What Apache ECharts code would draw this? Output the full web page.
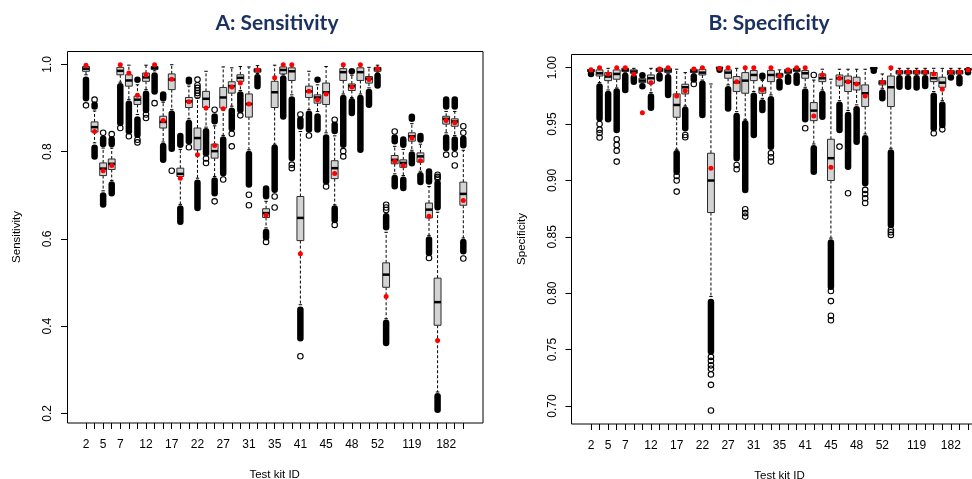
<!DOCTYPE html>
<html>
<head>
<meta charset="utf-8">
<script src="https://cdn.jsdelivr.net/npm/echarts@6/dist/echarts.min.js"></script>
<style>
  html, body { margin: 0; padding: 0; background: #fff; }
  #chart { width: 972px; height: 479px; }
</style>
</head>
<body>
<div id="chart"></div>
<script>
// test kit ids (only some are printed on the axis)
const kitIds = ["2","3","5","6","7","8","10","12","13","15","17","18","20","22","24","25","27","28","29","31",
  "32","33","35","36","38","41","42","43","45","46","47","48","50","51","52","53","54","101","119","120",
  "135","181","182","183","184"];
const shownIds = ["2","5","7","12","17","22","27","31","35","41","45","48","52","119","182"];

const sensTicks = [0.2, 0.4, 0.6, 0.8, 1.0];
const specTicks = [0.70, 0.75, 0.80, 0.85, 0.90, 0.95, 1.00];

// boxes: [lower whisker, Q1, median, Q3, upper whisker]
const sensBoxes = [
  [0.976,0.984,0.990,0.995,0.999],[0.820,0.845,0.856,0.868,0.893],[0.710,0.745,0.761,0.774,0.808],
  [0.734,0.759,0.772,0.783,0.808],[0.959,0.976,0.985,0.993,0.998],[0.919,0.950,0.963,0.976,0.998],
  [0.885,0.908,0.919,0.927,0.953],[0.942,0.961,0.970,0.980,0.998],[0.985,0.988,0.992,0.995,0.998],
  [0.822,0.854,0.868,0.881,0.913],[0.896,0.942,0.965,0.978,0.999],[0.679,0.743,0.749,0.762,0.805],
  [0.875,0.901,0.915,0.924,0.950],[0.739,0.804,0.831,0.854,0.923],[0.856,0.901,0.921,0.938,0.984],
  [0.743,0.785,0.801,0.817,0.859],[0.837,0.900,0.924,0.947,0.994],[0.904,0.934,0.950,0.960,0.992],
  [0.940,0.961,0.969,0.976,0.995],[0.804,0.879,0.909,0.932,0.994],[0.979,0.982,0.986,0.990,0.997],
  [0.625,0.649,0.659,0.669,0.686],[0.817,0.901,0.936,0.961,0.998],[0.976,0.978,0.987,0.994,0.998],
  [0.930,0.963,0.984,0.992,0.998],[0.449,0.596,0.648,0.697,0.846],[0.896,0.924,0.938,0.950,0.984],
  [0.892,0.911,0.924,0.930,0.953],[0.843,0.908,0.936,0.957,0.995],[0.678,0.738,0.762,0.779,0.836],
  [0.932,0.963,0.982,0.990,0.998],[0.924,0.940,0.950,0.955,0.975],[0.932,0.963,0.982,0.992,0.998],
  [0.946,0.957,0.967,0.972,0.993],[0.982,0.984,0.989,0.993,0.998],[0.417,0.489,0.518,0.545,0.615],
  [0.749,0.772,0.781,0.791,0.812],[0.745,0.764,0.774,0.781,0.805],[0.803,0.824,0.835,0.843,0.864],
  [0.755,0.776,0.789,0.797,0.817],[0.608,0.648,0.667,0.682,0.720],[0.249,0.402,0.455,0.510,0.661],
  [0.843,0.863,0.875,0.881,0.892],[0.837,0.858,0.869,0.875,0.892],[0.602,0.677,0.703,0.730,0.803]
];
// red dots
const sensMeans = [
  0.998,0.846,0.756,0.768,0.999,0.980,0.929,0.976,0.999,0.871,
  0.966,0.739,0.914,0.793,0.900,0.814,0.898,0.948,0.957,0.909,
  0.987,0.654,0.969,0.999,0.999,0.566,0.938,0.919,0.932,0.750,
  0.999,0.948,0.999,0.965,0.990,0.468,0.778,0.768,0.831,0.779,
  0.652,0.367,0.871,0.866,0.688
];
// runs of overlapping outliers: [kit index, from, to]
const sensBands = [
  [0,0.915,0.972],[1,0.896,0.915],[1,0.781,0.816],[2,0.810,0.837],[2,0.671,0.707],
  [3,0.810,0.835],[3,0.697,0.732],[4,0.858,0.957],[5,0.839,0.917],[6,0.957,0.972],
  [6,0.831,0.881],[7,0.888,0.940],[8,0.930,0.982],[9,0.915,0.938],[9,0.774,0.820],
  [10,0.799,0.894],[11,0.808,0.843],[11,0.632,0.677],[12,0.953,0.972],[12,0.816,0.873],
  [13,0.663,0.736],[14,0.789,0.854],[15,0.862,0.888],[15,0.697,0.741],[16,0.743,0.835],
  [17,0.846,0.901],[18,0.888,0.938],[19,0.717,0.802],[20,0.942,0.978],[21,0.690,0.723],
  [21,0.596,0.623],[22,0.705,0.816],[23,0.873,0.975],[24,0.778,0.927],[25,0.850,0.881],
  [25,0.365,0.445],[26,0.843,0.894],[27,0.957,0.972],[27,0.843,0.888],[28,0.724,0.840],
  [29,0.840,0.869],[29,0.636,0.677],[30,0.808,0.930],[31,0.978,0.990],[31,0.881,0.923],
  [32,0.797,0.930],[33,0.900,0.944],[34,0.944,0.981],[35,0.619,0.659],[35,0.354,0.415],
  [36,0.816,0.840],[36,0.713,0.747],[37,0.808,0.835],[37,0.709,0.743],[38,0.868,0.887],
  [38,0.766,0.801],[39,0.820,0.843],[39,0.723,0.753],[40,0.724,0.762],[40,0.560,0.606],
  [41,0.665,0.735],[41,0.201,0.247],[42,0.896,0.927],[42,0.801,0.840],[43,0.896,0.927],
  [43,0.801,0.835],[44,0.807,0.837],[44,0.564,0.600]
];
// single outliers: [kit index, value]
const sensPoints = [
  [0,0.906],[1,0.919],[2,0.843],[3,0.840],[4,0.854],[5,0.835],[6,0.827],[6,0.821],[7,0.885],[7,0.877],
  [8,0.911],[10,0.756],[12,0.810],[13,0.965],[13,0.952],[13,0.946],[13,0.940],[13,0.934],[13,0.928],
  [14,0.784],[14,0.774],[15,0.896],[15,0.686],[16,0.736],[17,0.841],[17,0.812],[18,0.883],[19,0.701],
  [19,0.677],[21,0.593],[22,0.697],[22,0.672],[24,0.770],[24,0.762],[25,0.885],[25,0.331],[26,0.837],
  [28,0.720],[29,0.873],[29,0.632],[30,0.801],[30,0.789],[35,0.678],[35,0.672],[35,0.666],[36,0.846],
  [40,0.556],[41,0.747],[41,0.742],[41,0.738],[42,0.793],[43,0.794],[43,0.768],[44,0.858],[44,0.843],
  [44,0.555]
];

const specBoxes = [
  [0.9955,0.9965,0.9975,0.9982,0.9995],[0.9867,0.9926,0.9950,0.9980,0.9994],[0.9802,0.9885,0.9921,0.9956,0.9994],
  [0.9820,0.9897,0.9944,0.9980,0.9994],[0.9960,0.9965,0.9980,0.9994,1.0000],[0.9947,0.9950,0.9965,0.9980,0.9994],
  [0.9864,0.9867,0.9885,0.9906,0.9912],[0.9779,0.9861,0.9906,0.9935,0.9994],[0.9960,0.9965,0.9980,0.9994,1.0000],
  [0.9950,0.9956,0.9974,0.9994,1.0000],[0.9276,0.9560,0.9669,0.9767,0.9986],[0.9660,0.9767,0.9826,0.9853,0.9956],
  [0.9952,0.9956,0.9970,0.9986,1.0000],[0.9890,0.9935,0.9956,0.9986,1.0000],[0.7970,0.8715,0.8999,0.9241,0.9855],
  [0.9990,0.9995,0.9998,1.0000,1.0000],[0.9847,0.9906,0.9956,0.9980,0.9994],[0.9610,0.9788,0.9870,0.9921,0.9994],
  [0.9542,0.9773,0.9885,0.9956,0.9994],[0.9788,0.9885,0.9935,0.9974,0.9994],[0.9728,0.9773,0.9808,0.9826,0.9887],
  [0.9758,0.9876,0.9935,0.9974,0.9994],[0.9910,0.9915,0.9935,0.9950,0.9980],[0.9947,0.9950,0.9965,0.9986,0.9994],
  [0.9962,0.9965,0.9980,0.9994,1.0000],[0.9826,0.9906,0.9950,0.9974,0.9994],[0.9323,0.9530,0.9619,0.9690,0.9890],
  [0.9802,0.9876,0.9906,0.9944,0.9986],[0.8488,0.8999,0.9197,0.9365,0.9897],[0.9707,0.9838,0.9906,0.9935,0.9986],
  [0.9620,0.9788,0.9876,0.9926,0.9986],[0.9670,0.9802,0.9861,0.9915,0.9986],[0.9412,0.9655,0.9773,0.9847,0.9986],
  [0.9985,0.9990,0.9995,1.0000,1.0000],[0.9817,0.9847,0.9867,0.9885,0.9944],[0.9285,0.9655,0.9826,0.9926,0.9990],
  [0.9940,0.9944,0.9960,0.9974,0.9994],[0.9940,0.9944,0.9960,0.9974,0.9994],[0.9940,0.9944,0.9960,0.9974,0.9994],
  [0.9940,0.9944,0.9960,0.9974,0.9994],[0.9788,0.9876,0.9906,0.9956,0.9994],[0.9707,0.9826,0.9867,0.9915,0.9994],
  [0.9932,0.9935,0.9956,0.9974,0.9994],[0.9940,0.9944,0.9960,0.9974,0.9994],[0.9975,0.9980,0.9985,0.9990,1.0000]
];
const specMeans = [
  0.9980,1.0000,0.9944,1.0000,1.0000,0.9944,0.9601,0.9867,0.9988,1.0000,
  0.9749,0.9796,0.9988,1.0000,0.9108,0.9993,1.0000,0.9876,1.0000,1.0000,
  0.9802,1.0000,0.9926,0.9980,1.0000,1.0000,0.9572,0.9935,0.9117,0.9906,
  0.9876,0.9855,0.9749,null,0.9870,1.0000,0.9962,0.9962,0.9962,0.9962,
  0.9944,0.9808,0.9962,0.9962,0.9980
];
const specBands = [
  [0,0.9935,0.9952],[1,0.9522,0.9861],[2,0.9513,0.9796],[3,0.9418,0.9817],[4,0.9773,0.9958],
  [5,0.9847,0.9942],[6,0.9915,0.9950],[6,0.9808,0.9861],[7,0.9616,0.9773],[8,0.9876,0.9956],
  [9,0.9728,0.9944],[10,0.9049,0.9270],[11,0.9433,0.9655],[12,0.9867,0.9950],[13,0.9551,0.9885],
  [14,0.7453,0.7950],[15,0.9976,0.9986],[16,0.9610,0.9838],[17,0.9167,0.9601],[18,0.8886,0.9536],
  [19,0.9374,0.9779],[20,0.9890,0.9956],[20,0.9595,0.9720],[21,0.9270,0.9749],[22,0.9796,0.9906],
  [23,0.9847,0.9944],[24,0.9838,0.9960],[25,0.9513,0.9817],[26,0.9049,0.9315],[27,0.9536,0.9796],
  [28,0.8029,0.8478],[29,0.9418,0.9699],[30,0.9093,0.9610],[31,0.9315,0.9660],[32,0.8945,0.9403],
  [33,0.9962,0.9982],[34,0.9699,0.9808],[35,0.8576,0.9276],[36,0.9802,0.9935],[37,0.9802,0.9935],
  [38,0.9796,0.9935],[39,0.9808,0.9935],[40,0.9433,0.9779],[41,0.9462,0.9699],[42,0.9897,0.9930],
  [43,0.9832,0.9938],[44,0.9950,0.9970]
];
const specPoints = [
  [1,0.9500],[1,0.9450],[1,0.9420],[1,0.9380],[3,0.9365],[3,0.9315],[3,0.9264],[3,0.9167],
  [10,0.9040],[10,0.8999],[10,0.8901],[11,0.9403],[11,0.9383],[12,0.9855],
  [14,0.7435],[14,0.7400],[14,0.7360],[14,0.7330],[14,0.7280],[14,0.7187],[14,0.6960],
  [17,0.9137],[17,0.9099],[18,0.8744],[18,0.8710],[18,0.8679],[21,0.9241],[21,0.9206],[21,0.9167],
  [25,0.9462],[26,0.9935],[28,0.8020],[28,0.7930],[28,0.7800],[28,0.7760],[29,0.9300],[30,0.8886],
  [32,0.8916],[32,0.8880],[32,0.8842],[32,0.8800],[35,0.8560],[35,0.8540],[35,0.8517],
  [40,0.9418],[41,0.9453]
];

const FONT = "'Liberation Sans', Arial, sans-serif";
const CIRCLE = 6.5;

// R style box: dashed whiskers, short staples, grey box, thick median
function drawBox(params, api) {
  let i = api.value(0);
  let x = api.coord([i, api.value(3)])[0];
  let w = api.size([1, 0])[0] * 0.8;
  let y = (k) => api.coord([i, api.value(k)])[1];
  let yLo = y(1), yQ1 = y(2), yMed = y(3), yQ3 = y(4), yHi = y(5);
  let dash = { stroke: "#000", lineWidth: 1, lineDash: [3, 2] };
  let solid = { stroke: "#000", lineWidth: 1 };
  return {
    type: "group",
    children: [
      { type: "line", shape: { x1: x, y1: yQ3, x2: x, y2: yHi }, style: dash },
      { type: "line", shape: { x1: x, y1: yQ1, x2: x, y2: yLo }, style: dash },
      { type: "line", shape: { x1: x - w / 4, y1: yHi, x2: x + w / 4, y2: yHi }, style: solid },
      { type: "line", shape: { x1: x - w / 4, y1: yLo, x2: x + w / 4, y2: yLo }, style: solid },
      { type: "rect", shape: { x: x - w / 2, y: yQ3, width: w, height: Math.max(yQ1 - yQ3, 0.5) },
        style: { fill: "#d3d3d3", stroke: "#2b2b2b", lineWidth: 1 } },
      { type: "line", shape: { x1: x - w / 2, y1: yMed, x2: x + w / 2, y2: yMed },
        style: { stroke: "#000", lineWidth: 2.5 } }
    ]
  };
}

// a run of overlapping hollow circles reads as a solid black capsule
function drawBand(params, api) {
  let i = api.value(0);
  let p1 = api.coord([i, api.value(2)]);
  let p2 = api.coord([i, api.value(1)]);
  let top = p1[1], h = p2[1] - p1[1];
  if (h < CIRCLE) {
    top = (p1[1] + p2[1]) / 2 - CIRCLE / 2;
    h = CIRCLE;
  }
  return {
    type: "rect",
    shape: { x: p1[0] - CIRCLE / 2, y: top, width: CIRCLE, height: h, r: CIRCLE / 2 },
    style: { fill: "#000" }
  };
}

function panelSeries(idx, boxes, means, bands, points) {
  return [
    {
      type: "custom", xAxisIndex: idx, yAxisIndex: idx,
      renderItem: drawBox,
      data: boxes.map((b, i) => [i].concat(b)),
      encode: { x: 0, y: [1, 2, 3, 4, 5] }
    },
    {
      type: "custom", xAxisIndex: idx, yAxisIndex: idx,
      renderItem: drawBand,
      data: bands,
      encode: { x: 0, y: [1, 2] }
    },
    {
      type: "scatter", xAxisIndex: idx, yAxisIndex: idx,
      symbol: "circle", symbolSize: CIRCLE - 1,
      itemStyle: { color: "rgba(0,0,0,0)", borderColor: "#000", borderWidth: 1.1, opacity: 1 },
      data: points
    },
    {
      type: "scatter", xAxisIndex: idx, yAxisIndex: idx,
      symbol: "circle", symbolSize: 5,
      itemStyle: { color: "#ff0000", opacity: 1 },
      data: means.map((v, i) => [i, v]).filter((d) => d[1] != null)
    }
  ];
}

function xAxisFor(idx) {
  return {
    type: "category", gridIndex: idx, data: kitIds, boundaryGap: true,
    axisLine: { show: false },
    axisTick: { show: true, interval: 0, alignWithLabel: true, length: 6, lineStyle: { color: "#000" } },
    axisLabel: {
      interval: (n, val) => shownIds.indexOf(val) >= 0,
      color: "#000", fontFamily: FONT, fontSize: 12, margin: 16
    },
    splitLine: { show: false },
    name: "Test kit ID", nameLocation: "middle", nameGap: 46,
    nameTextStyle: { color: "#000", fontFamily: FONT, fontSize: 11.5 }
  };
}

function yAxisFor(idx, min, max, ticks, digits, name, offset) {
  return {
    type: "value", gridIndex: idx, min: min, max: max, offset: offset,
    axisLine: { show: false },
    splitLine: { show: false },
    axisTick: { show: true, customValues: ticks, length: 6, lineStyle: { color: "#000" } },
    axisLabel: {
      customValues: ticks, rotate: 90, margin: 13,
      formatter: (v) => v.toFixed(digits),
      color: "#000", fontFamily: FONT, fontSize: 12
    },
    name: name, nameLocation: "middle", nameRotate: 90, nameGap: 44,
    nameTextStyle: { color: "#000", fontFamily: FONT, fontSize: 11.5 }
  };
}

let myChart = echarts.init(document.getElementById("chart"), null, { renderer: "canvas" });
let option = {
  animation: false,
  backgroundColor: "#fff",
  title: [
    { text: "A: Sensitivity", left: 272, top: 8, textAlign: "center",
      textStyle: { fontFamily: "Lato, 'Open Sans', sans-serif", fontWeight: "bold", fontSize: 21, color: "#1b3260" } },
    { text: "B: Specificity", left: 764, top: 8, textAlign: "center",
      textStyle: { fontFamily: "Lato, 'Open Sans', sans-serif", fontWeight: "bold", fontSize: 21, color: "#1b3260" } }
  ],
  grid: [
    { left: 81.7, top: 51, width: 385.9, height: 372, outerBoundsMode: "none" },
    { left: 586.7, top: 54, width: 385.6, height: 370, outerBoundsMode: "none" }
  ],
  xAxis: [xAxisFor(0), xAxisFor(1)],
  yAxis: [
    yAxisFor(0, 0.178, 1.0305, sensTicks, 1, "Sensitivity", 14.7),
    yAxisFor(1, 0.684, 1.0121, specTicks, 2, "Specificity", 15.2)
  ],
  graphic: [
    { type: "rect", z: 100, shape: { x: 67.5, y: 51.5, width: 415.5, height: 371.5 },
      style: { fill: "none", stroke: "#000", lineWidth: 1 } },
    { type: "rect", z: 100, shape: { x: 571.5, y: 54.5, width: 420, height: 369.5 },
      style: { fill: "none", stroke: "#000", lineWidth: 1 } }
  ],
  series: panelSeries(0, sensBoxes, sensMeans, sensBands, sensPoints)
    .concat(panelSeries(1, specBoxes, specMeans, specBands, specPoints))
};
myChart.setOption(option);
window.addEventListener("resize", function () {
  myChart.resize();
});
</script>
</body>
</html>
